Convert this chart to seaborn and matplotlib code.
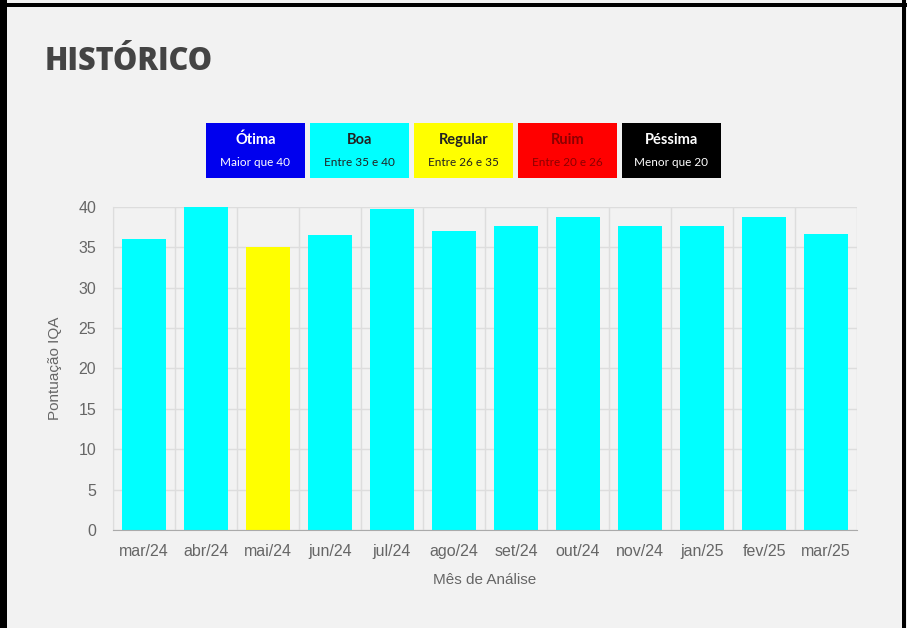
import numpy as np
import pandas as pd
import seaborn as sns
import matplotlib.pyplot as plt
from matplotlib.patches import Rectangle

# Dados do histórico IQA
months = ["mar/24", "abr/24", "mai/24", "jun/24", "jul/24", "ago/24",
          "set/24", "out/24", "nov/24", "jan/25", "fev/25", "mar/25"]
scores = [36.0, 40.0, 35.0, 36.5, 39.8, 37.0, 37.7, 38.8, 37.7, 37.7, 38.8, 36.6]
bar_colors = ["#00FFFF", "#00FFFF", "#FFFF00", "#00FFFF", "#00FFFF", "#00FFFF",
              "#00FFFF", "#00FFFF", "#00FFFF", "#00FFFF", "#00FFFF", "#00FFFF"]

# Faixas de classificação (legenda)
class_names = ["Ótima", "Boa", "Regular", "Ruim", "Péssima"]
class_ranges = ["Maior que 40", "Entre 35 e 40", "Entre 26 e 35", "Entre 20 e 26", "Menor que 20"]
class_colors = ["#0000EE", "#00FFFF", "#FFFF00", "#FF0000", "#000000"]
class_text = ["white", "#222222", "#222222", "#8B0000", "white"]

df = pd.DataFrame({"mes": months, "iqa": scores})

sns.set_style("white")
plt.rcParams["font.family"] = ["Liberation Sans", "DejaVu Sans"]

bg = "#F2F2F2"
fig = plt.figure(figsize=(9.07, 6.28), dpi=100, facecolor=bg)
ax = fig.add_axes([0.1246, 0.1561, 0.8203, 0.5143])
ax.set_facecolor(bg)

sns.barplot(data=df, x="mes", y="iqa", hue="mes", palette=bar_colors,
            legend=False, width=0.71, saturation=1, linewidth=0, ax=ax)

ax.set_xlim(-0.5, len(months) - 0.5)
ax.set_ylim(0, 40)
ax.set_yticks(np.arange(0, 41, 5))
ax.set_xticks(np.arange(-0.5, len(months), 1), minor=True)

ax.grid(True, axis="y", color="#DDDDDD", linewidth=1)
ax.grid(True, axis="x", which="minor", color="#DDDDDD", linewidth=1)
ax.grid(False, axis="x", which="major")
ax.set_axisbelow(True)

for s in ["top", "right"]:
    ax.spines[s].set_visible(False)
ax.spines["left"].set_color("#DDDDDD")
ax.spines["bottom"].set_color("#AAAAAA")

ax.tick_params(axis="y", length=8, color="#DDDDDD", labelsize=11.5, labelcolor="#666666", pad=4)
ax.tick_params(axis="x", which="major", length=0, labelsize=11.5, labelcolor="#666666", pad=10)
ax.tick_params(axis="x", which="minor", length=8, color="#DDDDDD")

ax.set_xlabel("Mês de Análise", fontsize=11, color="#666666", labelpad=10)
ax.set_ylabel("Pontuação IQA", fontsize=11, color="#666666", labelpad=12)

# Título
fig.text(45 / 907, 1 - 62 / 628, "HISTÓRICO", fontsize=22, fontweight="heavy",
         family=["Open Sans", "DejaVu Sans"], color="#444444", va="center", ha="left")

# Legenda em caixas
box_w, box_h, gap = 99, 55, 5
x0, y0 = 206, 123
for i, (name, rng, col, tc) in enumerate(zip(class_names, class_ranges, class_colors, class_text)):
    left = x0 + i * (box_w + gap)
    fig.patches.append(Rectangle((left / 907, 1 - (y0 + box_h) / 628), box_w / 907, box_h / 628,
                                 transform=fig.transFigure, facecolor=col, edgecolor="none"))
    cx = (left + box_w / 2) / 907
    fig.text(cx, 1 - 140 / 628, name, ha="center", va="center", fontsize=10.5,
             fontweight="bold", color=tc, family=["Lato", "DejaVu Sans"])
    fig.text(cx, 1 - 163 / 628, rng, ha="center", va="center", fontsize=8.5,
             color=tc, family=["Lato", "DejaVu Sans"])

# Moldura preta
fig.patches.append(Rectangle((0, 0), 7 / 907, 1, transform=fig.transFigure,
                             facecolor="black", edgecolor="none"))
fig.patches.append(Rectangle((0, 1 - 7 / 628), 1, 4 / 628, transform=fig.transFigure,
                             facecolor="black", edgecolor="none"))
fig.patches.append(Rectangle((902 / 907, 0), 4 / 907, 1, transform=fig.transFigure,
                             facecolor="black", edgecolor="none"))

fig.savefig("out.png", dpi=100, facecolor=bg)
